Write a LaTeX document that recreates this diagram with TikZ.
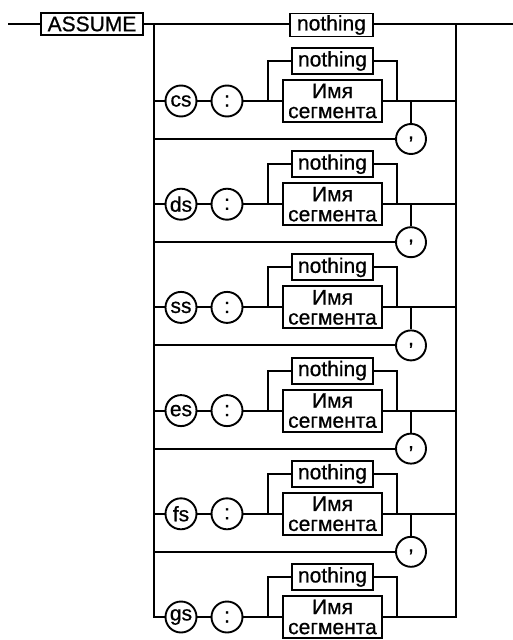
\documentclass[tikz,border=0pt]{standalone}
\usepackage{fontspec}
\setmainfont{Liberation Sans}
\newfontfamily\dfont{Liberation Sans}[FakeBold=0.7]
\begin{document}
\begin{tikzpicture}[x=1pt,y=-1pt,line width=1.9pt,
  txt/.style={font=\dfont\fontsize{21}{21}\selectfont},
  box/.style={draw,rectangle,inner sep=1pt,txt},
  nbox/.style={box,minimum width=81pt,minimum height=26pt},
  ibox/.style={box,minimum width=99pt,minimum height=42pt,align=center,font=\dfont\fontsize{21}{20}\selectfont},
  rnd/.style={draw,circle,inner sep=0pt,minimum size=31pt,txt}]
\useasboundingbox (0,0) rectangle (513,640);
% main line
\node[box,minimum width=102pt,minimum height=22pt] (assume) at (92,24) {ASSUME};
\node[nbox,minimum width=83pt,minimum height=23pt] (n0) at (331.5,25) {nothing};
\coordinate (start) at (8,24);
\coordinate (end) at (513,24);
\coordinate (L) at (154,24);
\coordinate (R) at (456,24);
\draw (start) -- (assume) -- (L) -- (L -| n0.west);
\draw (n0.east |- R) -- (R) -- (end);
\foreach \k/\nm in {0/cs,1/ds,2/ss,3/es,4/fs,5/gs}{
  \pgfmathsetmacro{\y}{101+103.2*\k}
  \pgfmathsetmacro{\yc}{\y+38}
  \pgfmathsetmacro{\yn}{\y-40}
  \node[rnd] (c\k) at (181,\y) {\nm};
  \node[rnd] (col\k) at (227,\y) {:};
  \node[nbox] (nt\k) at (332.5,\yn) {nothing};
  \node[ibox] (im\k) at (332.5,\y) {Имя\\сегмента};
  \coordinate (lv\k) at (154,\y);
  \coordinate (bl\k) at (268,\y);
  \coordinate (br\k) at (397,\y);
  \coordinate (rv\k) at (456,\y);
  \draw (c\k) -- (col\k) -- (bl\k) -- (im\k);
  \draw (bl\k) |- (nt\k.west);
  \draw (nt\k.east) -| (br\k);
  \draw (im\k) -- (rv\k);
  \ifnum\k<5
    \draw (lv\k) -- (c\k);
    \node[rnd,minimum size=30pt] (cm\k) at (411,\yc) {,};
    \coordinate (lc\k) at (154,\yc);
    \coordinate (cu\k) at (411,\y);
    \draw (lc\k) -- (cm\k);
    \draw (cm\k) -- (cu\k);
  \fi
}
\draw (L) |- (c5);
\draw (R) |- (im5);
\end{tikzpicture}
\end{document}
